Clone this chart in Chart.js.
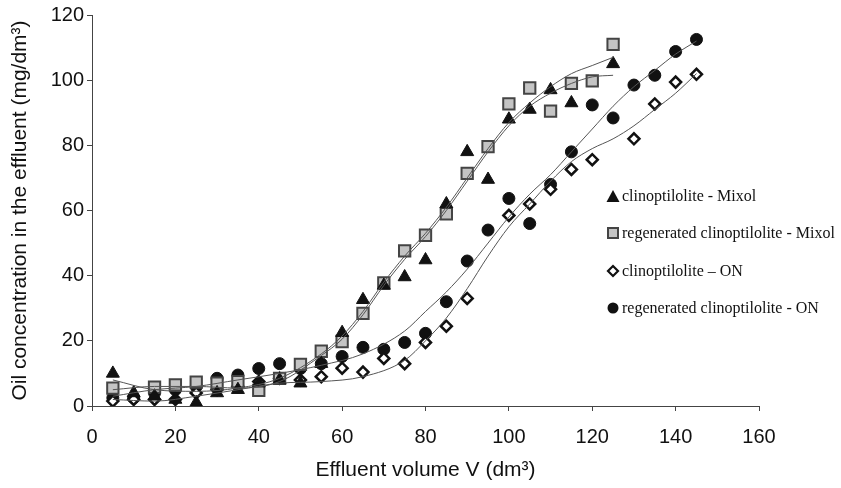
<!DOCTYPE html>
<html>
<head>
<meta charset="utf-8">
<script src="https://cdn.jsdelivr.net/npm/chart.js@4.4.1/dist/chart.umd.min.js"></script>
<style>
  html, body { margin: 0; padding: 0; background: #fff; }
  #wrap { position: relative; width: 841px; height: 488px; }
  #legend {
    position: absolute; left: 605px; top: 177px;
    font-family: 'Liberation Serif', 'Times New Roman', serif;
    font-size: 16px; color: #111;
  }
  .legend-item { display: flex; align-items: center; height: 37.5px; }
  .legend-item svg { width: 16px; height: 16px; margin-right: 1px; }
</style>
</head>
<body>
<div id="wrap">
  <canvas id="chart" width="841" height="488"></canvas>
  <div id="legend"></div>
</div>
<script>
// measured volumes (dm3)
const volumes = [5, 10, 15, 20, 25, 30, 35, 40, 45, 50, 55, 60, 65, 70, 75, 80, 85, 90, 95, 100, 105, 110, 115, 120, 125, 130, 135, 140, 145];

// oil concentration (mg/dm3) per series
const clinoMixol = [10, 4, 3, 2, 1, 4, 5, 7, 8, 7, 13, 22.5, 32.6, 37, 39.6, 44.8, 62, 78, 69.5, 88, 91, 97, 93, null, 105, null, null, null, null];
const regenMixol = [5.5, null, 5.8, 6.5, 7.3, 7, 7.5, 4.8, 8.5, 12.8, 16.8, 19.8, 28.4, 37.8, 47.6, 52.4, 59, 71.4, 79.6, 92.7, 97.6, 90.5, 99, 99.8, 111, null, null, null, null];
const clinoON = [1.5, 2, 2, 2, 4, 5, 6, 7.5, 8.5, 8, 9, 11.6, 10.4, 14.6, 13, 19.5, 24.5, 33, null, 58.5, 62, 66.5, 72.6, 75.6, null, 82, 92.7, 99.4, 101.8];
const regenON = [2.5, 2.5, 4, 5, 6, 8.5, 9.5, 11.5, 13, 11.5, 13, 15.2, 18, 17.4, 19.5, 22.3, 32, 44.5, 54, 63.7, 56, 68, 78, 92.4, 88.4, 98.5, 101.5, 108.8, 112.5];

// trend curves
const fitVolumesMixol = [5, 15, 25, 35, 45, 55, 60, 65, 70, 75, 80, 85, 90, 95, 100, 105, 110, 115, 120, 125];
const fitClinoMixol = [8, 5, 4.5, 5.5, 8.5, 16, 21.5, 29, 38, 46, 53, 61, 70, 79, 87, 93, 98, 102, 104.5, 107];
const fitRegenMixol = [5, 6, 6, 5.5, 7.5, 15.5, 20.5, 28, 37, 45, 52, 60, 69, 78, 86, 92, 96, 99, 101, 101.5];

const fitVolumesON = [5, 15, 25, 35, 45, 55, 65, 75, 80, 85, 90, 95, 100, 105, 110, 115, 120, 125, 130, 135, 140, 145];
const fitRegenON = [3, 5, 6, 8, 10, 12.5, 16, 23, 29, 35, 42, 50, 58, 65, 71, 78, 85, 92, 98, 103, 108, 112];
const fitClinoON = [2, 1.5, 3, 5, 7, 7.5, 9, 14, 20, 27, 36, 46, 55, 62, 69, 75, 79, 82, 86, 91, 96, 102];

const xTicks = [0, 20, 40, 60, 80, 100, 120, 140, 160];
const yTicks = [0, 20, 40, 60, 80, 100, 120];

const labels = [
  'clinoptilolite - Mixol',
  'regenerated clinoptilolite - Mixol',
  'clinoptilolite \u2013 ON',
  'regenerated clinoptilolite - ON'
];

const toPoints = (xs, ys) => xs.map((x, i) => ({ x: x, y: ys[i] })).filter(p => p.y !== null);

const markerSets = [
  { data: clinoMixol, pointStyle: 'triangle', radius: 7.5, bg: '#111', border: '#111', bw: 1 },
  { data: regenMixol, pointStyle: 'rect', radius: 8, bg: '#c4c4c4', border: '#444', bw: 2 },
  { data: clinoON, pointStyle: 'rectRot', radius: 5.5, bg: '#fff', border: '#111', bw: 2.5 },
  { data: regenON, pointStyle: 'circle', radius: 6, bg: '#111', border: '#111', bw: 1 }
];

const lineSet = (xs, ys) => ({
  data: toPoints(xs, ys),
  showLine: true,
  borderColor: '#555',
  borderWidth: 1,
  pointRadius: 0,
  cubicInterpolationMode: 'monotone',
  fill: false,
  order: 0
});

const datasets = markerSets.map((m, i) => ({
  label: labels[i],
  data: toPoints(volumes, m.data),
  showLine: false,
  pointStyle: m.pointStyle,
  pointRadius: m.radius,
  pointBackgroundColor: m.bg,
  pointBorderColor: m.border,
  pointBorderWidth: m.bw,
  order: 1
})).concat([
  lineSet(fitVolumesMixol, fitClinoMixol),
  lineSet(fitVolumesMixol, fitRegenMixol),
  lineSet(fitVolumesON, fitRegenON),
  lineSet(fitVolumesON, fitClinoON)
]);

const tickFont = { family: "'Liberation Sans', Arial, sans-serif", size: 20 };
const titleFont = { family: "'Liberation Sans', Arial, sans-serif", size: 21 };

new Chart(document.getElementById('chart'), {
  type: 'scatter',
  data: { datasets: datasets },
  options: {
    responsive: false,
    animation: false,
    layout: { padding: { top: 13, right: 82, left: 0, bottom: 0 } },
    plugins: { legend: { display: false }, tooltip: { enabled: false } },
    scales: {
      x: {
        type: 'linear',
        min: 0, max: 160,
        afterBuildTicks: (scale) => { scale.ticks = xTicks.map(v => ({ value: v })); },
        afterFit: (scale) => { scale.height = 82; },
        grid: { display: true, drawOnChartArea: false, drawTicks: true, tickLength: 5, color: '#444' },
        border: { display: true, color: '#444', width: 1 },
        ticks: { color: '#111', font: tickFont, padding: 14, maxRotation: 0 },
        title: {
          display: true, text: 'Effluent volume V (dm\u00b3)', color: '#111',
          font: titleFont, padding: { top: 0, bottom: 5 }
        }
      },
      y: {
        type: 'linear',
        min: 0, max: 120,
        afterBuildTicks: (scale) => { scale.ticks = yTicks.map(v => ({ value: v })); },
        afterFit: (scale) => { scale.width = 92; },
        grid: { display: true, drawOnChartArea: false, drawTicks: true, tickLength: 5, color: '#444' },
        border: { display: true, color: '#444', width: 1 },
        ticks: { color: '#111', font: tickFont, padding: 3 },
        title: {
          display: true, text: 'Oil concentration in the effluent (mg/dm\u00b3)', color: '#111',
          font: titleFont, padding: { top: 8, bottom: 0 }
        }
      }
    }
  }
});

// HTML legend with the same marker shapes
const legendIcons = [
  '<polygon points="8,2 14.5,14 1.5,14" fill="#111"/>',
  '<rect x="3" y="3" width="10" height="10" fill="#c4c4c4" stroke="#444" stroke-width="2"/>',
  '<polygon points="8,3 13,8 8,13 3,8" fill="#fff" stroke="#111" stroke-width="2.2"/>',
  '<circle cx="8" cy="8" r="5.5" fill="#111"/>'
];
document.getElementById('legend').innerHTML = labels.map((label, i) => `
  <div class="legend-item">
    <svg viewBox="0 0 16 16">${legendIcons[i]}</svg>
    <span>${label}</span>
  </div>`).join('');
</script>
</body>
</html>
